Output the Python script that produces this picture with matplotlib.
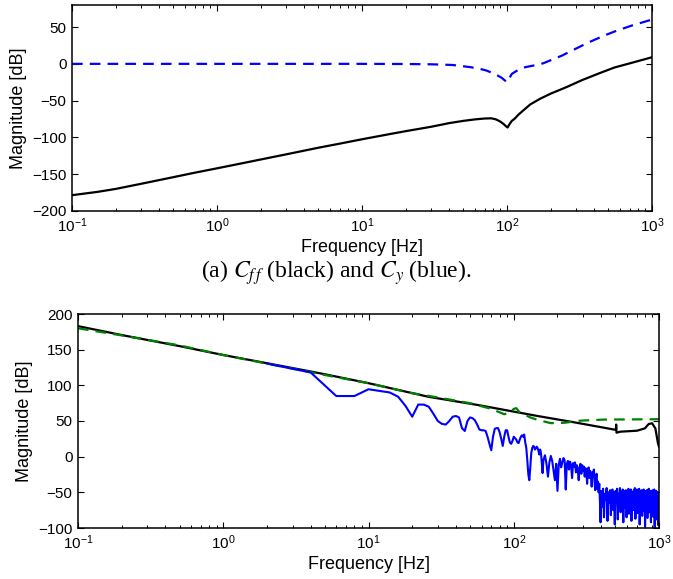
import numpy as np
import matplotlib
matplotlib.use('Agg')
import matplotlib.pyplot as plt

plt.rcParams['font.family'] = ['Liberation Sans', 'DejaVu Sans']
plt.rcParams['mathtext.fontset'] = 'custom'
plt.rcParams['mathtext.rm'] = 'Liberation Sans'
plt.rcParams['mathtext.it'] = 'Liberation Sans:italic'
plt.rcParams['mathtext.default'] = 'regular'

# --- (a) controller magnitudes
cff_f = [0.1, 0.15, 0.2, 0.3, 0.5, 0.7, 1, 1.5, 2, 3, 5, 7, 10, 15, 20, 30, 40, 50, 60, 70, 78, 84, 90,
         95, 98, 101, 104, 108, 113, 120, 130, 145, 169, 200, 258, 330, 437, 550, 743, 1000]
cff_db = [-178.5, -174, -170, -163, -154, -148, -142, -135, -130, -123, -114, -108.5, -102.5, -96,
          -91.5, -85.5, -80.5, -77.5, -75.5, -74.3, -74, -75.5, -78.5, -82, -84.5, -86.5, -82, -77.5,
          -74.5, -69, -63, -55, -47.5, -40.5, -31.5, -22, -12.5, -5, 2, 9]

cy_f = [0.1, 1, 10, 20, 30, 42, 56, 65, 72, 83, 92, 100, 108, 120, 133, 155, 178, 238, 287, 364, 462,
        570, 724, 942, 1000]
cy_db = [0, 0, 0, -0.2, -0.6, -1.5, -4.5, -6.8, -9, -14, -19, -25, -13.6, -8, -4.6, -2, 0.8, 11, 19, 29,
         38, 45, 52, 58.7, 60]

# --- (b) spectra
black_f = [0.1, 0.2, 0.5, 1, 2, 4.1, 5.3, 10, 25.8, 56.7, 101, 146, 211, 247, 418, 505, 507, 510, 540,
           706, 800, 849, 896, 944, 984, 1000]
black_db = [183, 170.5, 155, 142.5, 131, 119, 114.5, 103, 84, 72.4, 63, 57, 51.4, 49, 40.6, 37.5, 45, 33.6,
            35, 36.4, 39.7, 45.8, 46.8, 39.7, 18.7, 14]

green_f = [0.1, 0.2, 0.5, 1, 2, 5, 10, 20, 30, 50, 70, 86, 95, 100, 104, 110, 130, 146, 180, 223, 289,
           418, 1000]
green_db = [180, 170, 156, 142.5, 130.5, 114.5, 103, 89, 83, 75, 67, 59.5, 62, 67, 68, 62, 55, 51.5, 47,
            47.5, 50.5, 52, 52.5]

# measured spectrum (blue), frequency bins
blue_f = list(range(2, 101, 2)) + list(range(102, 159, 2)) + list(range(160, 397, 4)) + list(range(400, 1001, 6))
blue_db = [
    # 2 .. 100 Hz
    130.5, 118, 85, 85, 94.5, 92, 90, 84, 71, 56,
    73, 73, 70, 60, 50, 46, 45, 50, 56, 57,
    55, 40, 36, 50, 55, 54, 51, 45, 38, 37,
    37, 36, 28, 18, 9, 28, 39, 40, 40, 34,
    25, 15, 28, 37, 37, 28, 20, 18, 22, 28,
    # 102 .. 158 Hz
    26, 24, 20, 19, 24, 28, 30, 28, 31, 20,
    12, -5, -25, -33, -15, 5, 12, 15, 14, 10,
    12, 14, 12, 8, 3, 10, 5, -10, -23,
    # 160 .. 396 Hz
    -5, 2, -10, -28, -8, 1, -6, -20, -33, -10,
    -48, -12, -3, -15, -8, -2, -5, -46, -10, -6,
    -18, -7, -12, -30, -9, -14, -8, -22, -12, -18,
    -33, -15, -10, -24, -12, -20, -14, -28, -16, -22,
    -38, -18, -15, -30, -20, -26, -42, -22, -28, -18,
    -35, -47, -30, -24, -45, -35, -50, -38, -62, -92,
    # 400 .. 1000 Hz
    -48, -70, -45, -85, -52, -60, -44, -90, -50, -65,
    -47, -82, -55, -46, -75, -50, -95, -48, -62, -45,
    -88, -52, -58, -44, -78, -50, -66, -46, -92, -54,
    -48, -72, -47, -85, -51, -60, -45, -80, -49, -68,
    -46, -90, -53, -50, -75, -47, -60, -44, -87, -52,
    -58, -46, -79, -50, -64, -45, -95, -55, -49, -70,
    -47, -83, -52, -61, -46, -76, -50, -98, -54, -48,
    -68, -47, -86, -53, -60, -45, -78, -51, -66, -48,
    -92, -55, -50, -73, -47, -84, -52, -62, -46, -100,
    -54, -49, -71, -48, -88, -53, -60, -50, -96, -55,
    -52,
]
assert len(blue_f) == len(blue_db)


def style_axes(ax, yticks):
    ax.set_xscale('log')
    ax.set_xlim(0.1, 1000)
    ax.set_yticks(yticks)
    ax.tick_params(which='both', direction='in', top=True, right=True, labelsize=11)
    ax.tick_params(which='major', length=4, width=0.8, pad=4)
    ax.tick_params(which='minor', length=2.2, width=0.7)
    for s in ax.spines.values():
        s.set_linewidth(1.1)
    ax.set_xlabel('Frequency [Hz]', fontsize=13)
    ax.set_ylabel('Magnitude [dB]', fontsize=13)


fig = plt.figure(figsize=(6.73, 5.79), dpi=100)

ax1 = fig.add_axes([72 / 673, 1 - 211 / 579, 580 / 673, 206 / 579])
ax1.plot(cff_f, cff_db, color='black', lw=1.6)
ax1.plot(cy_f, cy_db, color='blue', lw=1.6, linestyle=(0, (4.8, 3.2)))
ax1.set_ylim(-200, 80)
style_axes(ax1, np.arange(-200, 51, 50))
ax1.yaxis.set_label_coords(-0.078, 0.5)
ax1.xaxis.set_label_coords(0.5, -0.135)

fig.text(0.5, 1 - 273 / 579, r'(a) $\mathit{C}_{\mathit{f\,f}}$ (black) and $\mathit{C}_{\mathit{y}}$ (blue).',
         ha='center', va='center', fontsize=17, family=['Liberation Serif'], math_fontfamily='stix')

ax2 = fig.add_axes([78 / 673, 1 - 528 / 579, 581 / 673, 214 / 579])
ax2.plot(black_f, black_db, color='black', lw=1.6)
ax2.plot(green_f, green_db, color='#008000', lw=1.6, linestyle=(0, (4.8, 3.2)))
ax2.plot(blue_f, blue_db, color='blue', lw=1.5)
ax2.set_ylim(-100, 200)
style_axes(ax2, np.arange(-100, 201, 50))
ax2.yaxis.set_label_coords(-0.077, 0.5)
ax2.xaxis.set_label_coords(0.5, -0.13)

plt.savefig('out.png', dpi=100)
